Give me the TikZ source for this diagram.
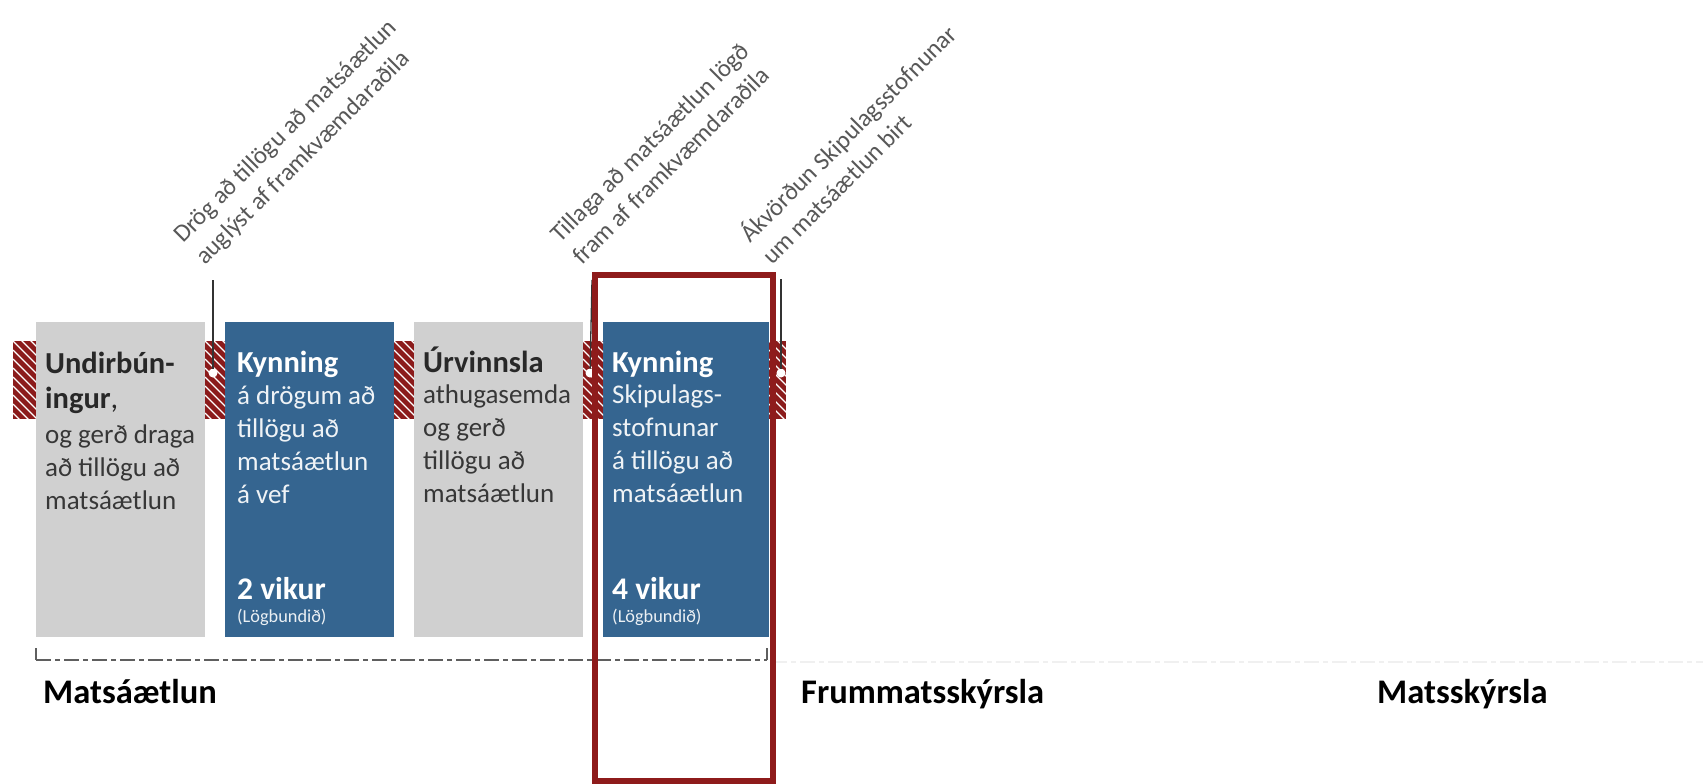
\documentclass[tikz,border=0pt]{standalone}
\usepackage{fontspec}
\setmainfont{Carlito}
\definecolor{boxblue}{RGB}{53,101,144}
\definecolor{boxgray}{RGB}{208,208,208}
\definecolor{stripred}{RGB}{139,27,27}
\definecolor{framered}{RGB}{142,27,27}
\definecolor{txtdark}{RGB}{55,55,55}
\definecolor{hdrdark}{RGB}{40,40,40}
\definecolor{lbl}{RGB}{88,88,88}
\definecolor{spangray}{RGB}{95,95,95}
\begin{document}
\begin{tikzpicture}[x=1pt,y=-1pt,
  box/.style={rectangle, inner sep=0, outer sep=0, anchor=north west, minimum height=315pt},
  strip/.style={rectangle, inner sep=0, outer sep=0, anchor=north west, fill=stripred, minimum height=78pt,
    path picture={\foreach \k in {-10,...,3}{\draw[white,line width=1.4pt] ([yshift=\k*9pt]path picture bounding box.north west) -- ++(40pt,-40pt);}}},
  dot/.style={circle, fill=white, inner sep=0, outer sep=0, minimum size=9pt},
  conn/.style={draw=black!80, line width=1.3pt},
  hdr/.style={inner sep=0, anchor=base west, align=left, font=\fontsize{30.5}{35}\selectfont\bfseries},
  body/.style={inner sep=0, anchor=base west, align=left, font=\fontsize{27}{33}\selectfont},
  dur/.style={inner sep=0, anchor=base west, font=\fontsize{31.5}{35}\selectfont\bfseries, text=white},
  legal/.style={inner sep=0, anchor=base west, font=\fontsize{18.3}{20}\selectfont, text=white!90!boxblue},
  rlab/.style={inner sep=0, anchor=base west, align=left, rotate=45, text=lbl, font=\fontsize{24.8}{31}\selectfont},
  big/.style={inner sep=0, anchor=base west, font=\fontsize{34.5}{38}\selectfont\bfseries, text=black},
  span/.style={draw=spangray, line width=2pt, dash pattern=on 15pt off 4pt on 5pt off 4pt},
  tick/.style={draw=spangray, line width=1.5pt}
]
\useasboundingbox[fill=white] (0,0) rectangle (1703,784);

% boxes
\node[box, fill=boxgray, minimum width=169pt] (g1) at (36,322) {};
\node[box, fill=boxblue, minimum width=169pt] (b1) at (225,322) {};
\node[box, fill=boxgray, minimum width=169pt] (g2) at (414,322) {};
\node[box, fill=boxblue, minimum width=166pt] (b2) at (603,322) {};

% hatched strips
\node[strip, minimum width=23pt] (s1) at (13,341) {};
\node[strip, minimum width=20pt] (s2) at (205,341) {};
\node[strip, minimum width=20pt] (s3) at (394,341) {};
\node[strip, minimum width=20pt] (s4) at (583,341) {};
\node[strip, minimum width=17pt] (s5) at (769,341) {};

% milestone dots and lines
\node[dot] (c1) at (213,373) {};
\node[dot] (c2) at (590,373) {};
\node[dot] (c3) at (781,373) {};
\coordinate (t1) at (213,280);
\coordinate (t2) at (592,280);
\coordinate (t3) at (781,279);
\draw[conn] (t1) -- (c1);
\draw[conn] (t2) -- (c2);
\draw[conn] (t3) -- (c3);

% box texts (base anchor = baseline of the last line)
\node[hdr, text=hdrdark] (g1h) at (45,408) {Undirbún-\\ingur\mdseries,};
\node[body, text=txtdark] (g1b) at (45,509) {og gerð draga\\að tillögu að\\matsáætlun};

\node[hdr, text=white] (b1h) at (237,372) {Kynning};
\node[body, text=white!92!boxblue] (b1b) at (237,503) {á drögum að\\tillögu að\\matsáætlun\\á vef};
\node[dur] (b1d) at (237,599) {2 vikur};
\node[legal] (b1l) at (237,622) {(Lögbundið)};

\node[hdr, text=hdrdark] (g2h) at (423,372) {Úrvinnsla};
\node[body, text=txtdark] (g2b) at (423,502) {athugasemda\\og gerð\\tillögu að\\matsáætlun};

\node[hdr, text=white] (b2h) at (612,372) {Kynning};
\node[body, text=white!92!boxblue] (b2b) at (612,502) {Skipulags-\\stofnunar\\á tillögu að\\matsáætlun};
\node[dur] (b2d) at (612,599) {4 vikur};
\node[legal] (b2l) at (612,622) {(Lögbundið)};

% span line
\coordinate (d1) at (36,648);
\coordinate (d2) at (36,660);
\coordinate (d3) at (767,660);
\coordinate (d4) at (767,648);
\coordinate (e1) at (772,662);
\coordinate (e2) at (1703,662);
\draw[tick] (d1) -- (d2);
\draw[span] (d2) -- (d3);
\draw[tick] (d3) -- (d4);
\draw[span, draw=black!6] (e1) -- (e2);

% phase labels
\node[big] (m1) at (43,703) {Matsáætlun};
\node[big] (f1) at (801,703) {Frummatsskýrsla};
\node[big] (m2) at (1377,703) {Matsskýrsla};

% highlight frame
\node[draw=framered, line width=6pt, inner sep=0, outer sep=0, anchor=north west,
      minimum width=178pt, minimum height=506pt] (hl) at (595,275) {};

% rotated milestone labels (base anchor = start of the second line)
\node[rlab] (r1) at (205,266) {Drög að tillögu að matsáætlun\\auglýst af framkvæmdaraðila};
\node[rlab] (r2) at (582,266) {Tillaga að matsáætlun lögð\\fram af framkvæmdaraðila};
\node[rlab] (r3) at (772,266) {Ákvörðun Skipulagsstofnunar\\um matsáætlun birt};
\end{tikzpicture}
\end{document}
